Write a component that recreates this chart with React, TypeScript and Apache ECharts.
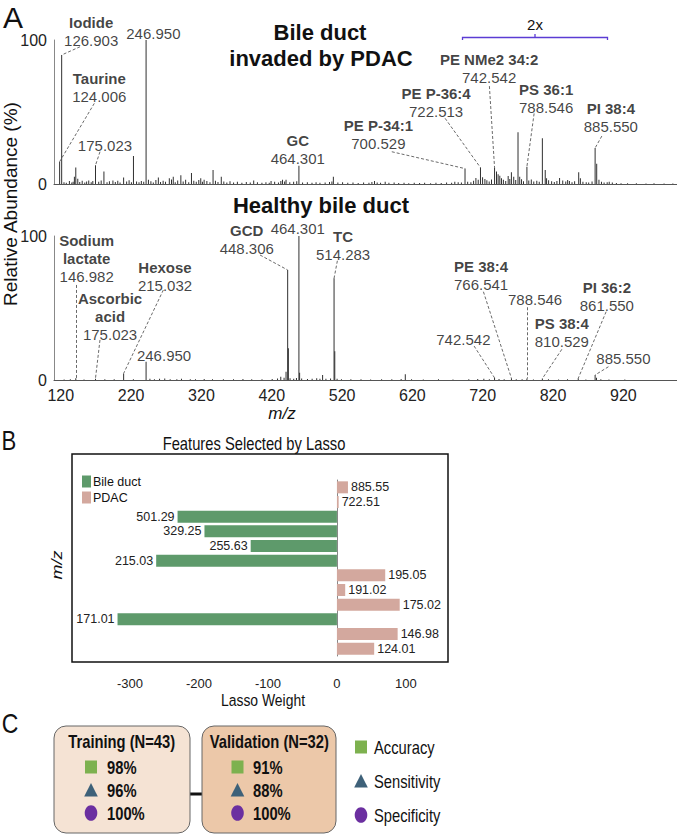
import React, { useEffect, useRef } from 'react';
import * as echarts from 'echarts';

const SANS = "'Liberation Sans', Arial, Helvetica, sans-serif";
const NARROW_SX = 0.82; // reference uses a condensed face; emulate by horizontal scaling

// ---------- Panel A : mass spectra ----------
const mzTicks = [120, 220, 320, 420, 520, 620, 720, 820, 920];
const abundanceTicks = [0, 100];

// [m/z, relative abundance %]  (bile duct invaded by PDAC)
const topPeaks: [number, number][] = [
  [124.006, 15.5], [126.903, 89.6], [145.0, 5], [146.98, 11.5], [149.8, 3.7], [165.4, 2.5],
  [175.023, 13], [187.0, 8.6], [199.8, 2.5], [215.0, 4.5], [229.0, 19.4], [246.95, 100],
  [250.3, 3], [264.4, 4.5], [280.0, 4], [285.6, 5], [296.4, 6], [311.5, 7.7], [324.7, 4],
  [329.5, 3], [342.2, 9.8], [353.9, 5], [400, 2.5], [424.7, 2], [441, 3], [446, 3],
  [464.301, 12.7], [513.3, 5], [571.8, 2], [587, 1.5], [686, 1.5], [700.529, 10.7], [716, 4.2],
  [722.513, 11.4], [725.5, 4.7], [728.8, 3.5], [742.542, 11.4], [745.3, 8.6], [747.6, 6.7],
  [750, 5.8], [752.4, 4], [766.5, 8.2], [769.8, 5], [775.9, 36], [778.3, 5], [788.546, 12],
  [810.529, 31.7], [814.6, 9.7], [816.5, 4], [835, 4.2], [839.5, 2.5], [849, 2], [862.2, 8.2],
  [864.6, 4], [885.55, 25], [887.8, 14], [891, 3], [905.6, 1.5], [910, 1]
];
const topNoise: [number, number][] = [
  [130.2, 1.2], [133.5, 0.8], [137.9, 2.0], [141.3, 1.1], [143.2, 1.6], [152.6, 1.4], [156.1, 2.2],
  [159.8, 1.0], [162.4, 1.8], [168.9, 1.3], [171.2, 2.1], [179.6, 1.5], [183.1, 2.4], [191.4, 1.2],
  [194.8, 1.9], [203.2, 1.4], [206.7, 2.3], [209.9, 1.1], [219.3, 1.7], [222.8, 2.6], [226.1, 1.3],
  [233.4, 1.8], [236.9, 1.2], [240.2, 2.0], [243.6, 1.5], [253.8, 1.9], [257.2, 1.1], [260.9, 2.8],
  [267.5, 1.4], [271.2, 2.2], [274.6, 1.6], [283.1, 3.1], [288.4, 1.3], [291.9, 2.4], [299.7, 1.8],
  [303.2, 2.9], [307.6, 1.2], [314.8, 2.2], [318.3, 1.5], [321.9, 2.7], [327.1, 1.6], [333.4, 2.0],
  [337.8, 1.3], [345.6, 2.3], [349.2, 1.4], [357.5, 1.7], [361.8, 1.1], [366.3, 1.9], [371.4, 1.0],
  [376.8, 1.6], [383.2, 0.9], [389.5, 1.4], [395.1, 1.0], [405.3, 1.2], [411.7, 0.8], [417.4, 1.3],
  [422.1, 0.9], [429.8, 1.5], [435.2, 1.1], [438.6, 2.0], [444.0, 1.7], [451.3, 1.2], [456.8, 1.6],
  [461.2, 1.9], [469.5, 1.0], [476.3, 1.3], [482.9, 0.8], [488.7, 1.2], [494.2, 0.9], [501.6, 1.1],
  [507.8, 1.4], [511.2, 1.8], [519.7, 1.0], [526.4, 1.3], [533.8, 0.8], [541.2, 1.1], [548.6, 0.7],
  [556.3, 1.0], [563.9, 0.8], [568.1, 1.4], [575.6, 1.1], [580.4, 0.9], [592.3, 0.8], [599.7, 1.0],
  [606.2, 0.7], [613.8, 0.9], [620.5, 0.6], [628.3, 0.8], [635.9, 0.7], [643.1, 0.9], [651.6, 0.6],
  [659.2, 0.8], [666.7, 0.7], [674.3, 1.0], [681.5, 0.9], [690.8, 1.2], [695.4, 1.0], [704.3, 1.6],
  [708.9, 1.3], [712.7, 2.2], [719.3, 3.0], [731.6, 2.6], [734.9, 1.8], [738.2, 3.2], [755.1, 3.0],
  [758.4, 2.1], [761.9, 5.5], [764.2, 3.4], [772.6, 2.8], [780.9, 3.3], [783.7, 1.9], [791.2, 2.5],
  [794.8, 3.1], [798.3, 1.7], [802.6, 2.2], [806.1, 1.5], [819.4, 2.6], [823.7, 1.9], [827.5, 1.4],
  [831.2, 2.0], [843.8, 1.8], [846.5, 2.7], [852.7, 1.3], [856.4, 1.9], [868.2, 1.6], [872.9, 1.2],
  [876.4, 1.0], [881.2, 1.8], [894.6, 1.6], [898.3, 1.1], [902.7, 1.3], [915.8, 0.7], [922.4, 0.6],
  [931.7, 0.5], [944.2, 0.6], [957.9, 0.4], [969.3, 0.5], [983.6, 0.4], [996.1, 0.3]
];

// healthy bile duct
const bottomPeaks: [number, number][] = [
  [146.982, 1.2], [175.023, 0.8], [215.032, 4.6], [246.95, 12.7], [446, 5.8], [448.306, 76.4],
  [449.3, 22], [464.301, 100], [465.3, 5], [498, 3.5], [514.283, 70.6], [515.3, 20], [615.6, 4],
  [742.542, 1.5], [766.541, 1.2], [788.546, 1.0], [810.529, 1.0], [861.55, 1.2], [885.55, 3.5],
  [887.5, 1.5]
];
const bottomNoise: [number, number][] = [
  [130.4, 0.4], [139.2, 0.5], [158.7, 0.4], [188.3, 0.5], [201.6, 0.6], [228.9, 0.5], [252.4, 0.9],
  [258.8, 0.6], [266.1, 0.8], [273.5, 1.0], [281.2, 0.5], [290.7, 0.6], [297.3, 0.8], [309.8, 0.5],
  [317.2, 0.6], [329.6, 0.7], [341.4, 0.5], [356.9, 0.6], [371.3, 0.5], [384.7, 0.7], [397.2, 0.5],
  [411.8, 0.6], [426.3, 0.7], [433.9, 1.1], [438.5, 2.2], [443.2, 1.5], [451.7, 1.2], [456.9, 0.9],
  [460.8, 1.4], [468.2, 1.0], [476.5, 0.7], [483.1, 0.8], [489.6, 1.3], [494.2, 0.9], [502.7, 0.8],
  [509.3, 1.1], [518.6, 0.9], [524.8, 0.6], [538.2, 0.5], [552.6, 0.6], [566.3, 0.4], [581.9, 0.5],
  [596.4, 0.6], [609.7, 0.7], [624.5, 0.5], [641.2, 0.4], [662.8, 0.5], [683.4, 0.4], [705.9, 0.5],
  [718.6, 0.7], [727.3, 0.8], [735.1, 0.6], [748.9, 0.7], [756.2, 0.5], [773.4, 0.6], [781.7, 0.5],
  [797.8, 0.4], [819.2, 0.5], [833.6, 0.4], [846.3, 0.5], [872.4, 0.4], [893.7, 0.6], [905.2, 0.4],
  [927.8, 0.3]
];

type Note = { name?: string; mz: string; at: [number, number]; line?: [[number, number], [number, number]] };

const topNotes: Note[] = [
  { name: 'Iodide', mz: '126.903', at: [168.9, 105.6], line: [[153, 95.3], [126.903, 89.6]] },
  { name: 'Taurine', mz: '124.006', at: [180.4, 67], line: [[173.3, 56], [124.006, 15.5]] },
  { mz: '175.023', at: [188.5, 26.4], line: [[181.4, 22.4], [175.023, 13]] },
  { mz: '246.950', at: [257.3, 104.7] },
  { name: 'GC', mz: '464.301', at: [462.7, 23.7] },
  { name: 'PE P-34:1', mz: '700.529', at: [577.3, 34.2], line: [[596.4, 22.4], [700.529, 10.7]] },
  { name: 'PE P-36:4', mz: '722.513', at: [659.4, 56.6], line: [[672.2, 45.6], [722.513, 11.4]] },
  { name: 'PE NMe2 34:2', mz: '742.542', at: [734.8, 80.2], line: [[735.2, 68], [742.542, 11.4]] },
  { name: 'PS 36:1', mz: '788.546', at: [815.9, 59.7], line: [[798.8, 49], [788.546, 12]] },
  { name: 'PI 38:4', mz: '885.550', at: [907.9, 46.2], line: [[895.1, 33.3], [885.55, 25]] }
];

const bottomNotes: Note[] = [
  { name: 'Sodium\nlactate', mz: '146.982', at: [162.5, 84.5], line: [[146.982, 66], [146.982, 1.2]] },
  { name: 'Ascorbic\nacid', mz: '175.023', at: [195.7, 44.4], line: [[181.4, 27.8], [175.023, 1.2]] },
  { name: 'Hexose', mz: '215.032', at: [273.9, 72.1], line: [[271.5, 62.5], [215.032, 4.6]] },
  { mz: '246.950', at: [272.5, 16.9] },
  { name: 'GCD', mz: '448.306', at: [390.1, 97.8], line: [[409, 86.8], [448.306, 76.4]] },
  { mz: '464.301', at: [462.7, 105.3] },
  { name: 'TC', mz: '514.283', at: [527.1, 93.5], line: [[519, 82.8], [514.283, 70.6]] },
  { name: 'PE 38:4', mz: '766.541', at: [723.4, 72.6], line: [[726.7, 61.3], [766.541, 1.2]] },
  { mz: '742.542', at: [698.2, 28.3], line: [[713.4, 23.6], [742.542, 1.5]] },
  { mz: '788.546', at: [800.2, 55.6], line: [[788.546, 50.5], [788.546, 1.0]] },
  { name: 'PS 38:4', mz: '810.529', at: [838.2, 33], line: [[838.2, 21.3], [810.529, 1.0]] },
  { name: 'PI 36:2', mz: '861.550', at: [902.2, 58.2], line: [[901.2, 47.4], [861.55, 1.2]] },
  { mz: '885.550', at: [925.8, 15.1], line: [[904.5, 9.2], [885.55, 3.5]] }
];

// ---------- Panel B : lasso features ----------
const lassoMz = ['885.55', '722.51', '501.29', '329.25', '255.63', '215.03', '195.05', '191.02', '175.02', '171.01', '146.98', '124.01'];
const bileWeights = [null, null, -231, -192, -125, -262, null, null, null, -318, null, null];
const pdacWeights = [16, 2.5, null, null, null, null, 70, 12, 91, null, 88, 54];
const weightTicks = [-300, -200, -100, 0, 100];

// ---------- Panel C : performance ----------
const metricNames = ['Accuracy', 'Sensitivity', 'Specificity'];
const cohortNames = ['Training', 'Validation'];
const cohortN = [43, 32];
const trainingPct = [98, 96, 100];
const validationPct = [91, 88, 100];

const GREEN = '#5e9a6b';
const PINK = '#d3a89e';
const MARK_COLORS = ['#7db14f', '#3e6179', '#6b2fa0'];

function noteText(n: Note) {
  const parts: string[] = [];
  if (n.name) n.name.split('\n').forEach((s) => parts.push(`{b|${s}}`));
  parts.push(`{v|${n.mz}}`);
  return parts.join('\n');
}

function marker(kind: number, cx: number, cy: number) {
  const fill = MARK_COLORS[kind];
  if (kind === 0) return { type: 'rect', shape: { x: cx - 6, y: cy - 6.5, width: 12, height: 13 }, style: { fill } };
  if (kind === 1)
    return { type: 'polygon', shape: { points: [[cx, cy - 7], [cx + 6.8, cy + 6.5], [cx - 6.8, cy + 6.5]] }, style: { fill } };
  return { type: 'ellipse', shape: { cx, cy, rx: 6.3, ry: 7.8 }, style: { fill } };
}

function txt(text: string, x: number, y: number, font: string, extra: any = {}) {
  return {
    type: 'text',
    x,
    y,
    rotation: extra.rotation || 0,
    scaleX: extra.sx || 1,
    scaleY: extra.sy || 1,
    style: { text, font, fill: extra.fill || '#111', align: extra.align || 'center', verticalAlign: 'middle' }
  };
}

export default function App() {
  const ref = useRef<HTMLDivElement>(null);
  useEffect(() => {
    if (!ref.current) return;
    const chart = echarts.init(ref.current, null, { renderer: 'svg' });

    const spectrumX = (idx: number, labels: boolean) => ({
      type: 'value',
      gridIndex: idx,
      min: 116,
      max: 1002,
      axisLine: { show: true, lineStyle: { color: '#555', width: 1 } },
      axisTick: { show: false },
      splitLine: { show: false },
      axisLabel: labels
        ? { show: true, customValues: mzTicks, fontSize: 16, fontFamily: SANS, color: '#222', margin: 7, padding: [0, 0, 0, 8] }
        : { show: false }
    });
    const spectrumY = (idx: number, pad: number) => ({
      type: 'value',
      gridIndex: idx,
      min: 0,
      max: 100,
      interval: 100,
      axisLine: { show: true, lineStyle: { color: '#888', width: 1 } },
      axisTick: { show: false },
      splitLine: { show: false },
      axisLabel: { customValues: abundanceTicks, fontSize: 16, fontFamily: SANS, color: '#222', margin: 7, padding: [pad, 0, 0, 0] }
    });

    const spectrumSeries = (idx: number, peaks: [number, number][], noise: [number, number][], notes: Note[]) => [
      {
        type: 'bar',
        xAxisIndex: idx,
        yAxisIndex: idx,
        data: [...peaks, ...noise],
        barWidth: 1,
        itemStyle: { color: '#303030' },
        silent: true,
        markLine: {
          silent: true,
          symbol: ['none', 'none'],
          label: { show: false },
          emphasis: { disabled: true },
          lineStyle: { type: [3, 2], color: '#444', width: 0.8 },
          data: notes.filter((n) => n.line).map((n) => [{ coord: n.line![0] }, { coord: n.line![1] }])
        }
      },
      {
        type: 'scatter',
        xAxisIndex: idx,
        yAxisIndex: idx,
        clip: false,
        silent: true,
        symbolSize: 1,
        itemStyle: { color: 'rgba(0,0,0,0)' },
        data: notes.map((n) => ({ value: n.at, text: noteText(n) })),
        label: {
          show: true,
          position: 'inside',
          align: 'center',
          verticalAlign: 'middle',
          formatter: (p: any) => p.data.text,
          rich: {
            b: { fontFamily: SANS, fontWeight: 'bold', fontSize: 15, lineHeight: 18, color: '#111' },
            v: { fontFamily: SANS, fontSize: 15, lineHeight: 18, color: '#111' }
          }
        },
        z: 5
      }
    ];

    const N = { sx: NARROW_SX };
    const graphic: any[] = [];
    // panel letters
    graphic.push(txt('A', 13, 17, `30px ${SANS}`));
    graphic.push(txt('B', 9, 441, `27px ${SANS}`, N));
    graphic.push(txt('C', 10, 723, `28px ${SANS}`, N));
    // panel A titles
    graphic.push(txt('Bile duct', 320, 32, `bold 22px ${SANS}`));
    graphic.push(txt('invaded by PDAC', 321, 58, `bold 22px ${SANS}`));
    graphic.push(txt('Healthy bile duct', 321, 205, `bold 22px ${SANS}`));
    graphic.push(txt('Relative Abundance (%)', 10, 204, `19px ${SANS}`, { rotation: Math.PI / 2 }));
    graphic.push(txt('m/z', 282, 413, `italic 17px ${SANS}`));
    // 2x bracket
    graphic.push({
      type: 'polyline',
      shape: { points: [[462.5, 40], [462.5, 37.5], [607.5, 37.5], [607.5, 40]] },
      style: { stroke: '#5b3cd4', lineWidth: 1.3, fill: null }
    });
    graphic.push({ type: 'line', shape: { x1: 535, y1: 37.5, x2: 535, y2: 34 }, style: { stroke: '#5b3cd4', lineWidth: 1.3 } });
    graphic.push(txt('2x', 535, 24, `15px ${SANS}`));

    // panel B decorations
    graphic.push({ type: 'rect', shape: { x: 72, y: 454, width: 376, height: 208 }, style: { fill: null, stroke: '#111', lineWidth: 1.5 } });
    graphic.push(txt('Features Selected by Lasso', 254, 443, `18px ${SANS}`, N));
    graphic.push(txt('m/z', 57, 565, `italic 18px ${SANS}`, { rotation: Math.PI / 2, sy: NARROW_SX }));
    graphic.push(txt('Lasso Weight', 263, 700, `17px ${SANS}`, N));

    // panel C
    const boxes = [
      { x: 54, w: 136, fill: '#f5e3d4', markX: 91, textX: 107, titleX: 121.7, pct: trainingPct },
      { x: 202, w: 134, fill: '#ecc8a9', markX: 237.5, textX: 253, titleX: 269.3, pct: validationPct }
    ];
    graphic.push({ type: 'line', shape: { x1: 190, y1: 794, x2: 202, y2: 794 }, style: { stroke: '#111', lineWidth: 3 } });
    const rowY = [767, 790, 813];
    boxes.forEach((b, i) => {
      graphic.push({ type: 'rect', shape: { x: b.x, y: 726, width: b.w, height: 107, r: 12 }, style: { fill: b.fill, stroke: '#666', lineWidth: 1 } });
      graphic.push(txt(`${cohortNames[i]} (N=${cohortN[i]})`, b.titleX, 741, `bold 18px ${SANS}`, N));
      b.pct.forEach((v, k) => {
        graphic.push(marker(k, b.markX, rowY[k]));
        graphic.push(txt(`${v}%`, b.textX, rowY[k], `bold 18px ${SANS}`, { align: 'left', sx: NARROW_SX }));
      });
    });
    const legY = [747, 781, 815];
    metricNames.forEach((m, k) => {
      graphic.push(marker(k, 361, legY[k]));
      graphic.push(txt(m, 374, legY[k], `18px ${SANS}`, { align: 'left', sx: NARROW_SX }));
    });

    const option: any = {
      animation: false,
      grid: [
        { left: 54, right: 0, top: 40, height: 144, outerBoundsMode: 'none' },
        { left: 54, right: 0, top: 236, height: 144, outerBoundsMode: 'none' },
        { left: 72, width: 376, top: 480, height: 176, outerBoundsMode: 'none' }
      ],
      xAxis: [
        spectrumX(0, false),
        spectrumX(1, true),
        {
          type: 'value',
          gridIndex: 2,
          min: -384,
          max: 161,
          axisLine: { show: false },
          axisTick: { show: false },
          splitLine: { show: false },
          axisLabel: { customValues: weightTicks, fontSize: 13, fontFamily: SANS, color: '#222', margin: 21 }
        }
      ],
      yAxis: [
        spectrumY(0, 8),
        spectrumY(1, 4),
        {
          type: 'category',
          gridIndex: 2,
          inverse: true,
          data: lassoMz,
          axisLine: { show: true, onZero: true, lineStyle: { color: '#888', width: 1 } },
          axisTick: { show: false },
          axisLabel: { show: false },
          splitLine: { show: false }
        }
      ],
      legend: {
        data: ['Bile duct', 'PDAC'],
        orient: 'vertical',
        left: 77,
        top: 470,
        itemWidth: 9,
        itemHeight: 12,
        itemGap: 3,
        icon: 'rect',
        selectedMode: false,
        textStyle: { fontSize: 12.5, fontFamily: SANS, color: '#111', padding: [0, 0, 0, -3] }
      },
      graphic,
      series: [
        ...spectrumSeries(0, topPeaks, topNoise, topNotes),
        ...spectrumSeries(1, bottomPeaks, bottomNoise, bottomNotes),
        {
          name: 'Bile duct',
          type: 'bar',
          xAxisIndex: 2,
          yAxisIndex: 2,
          stack: 'w',
          barWidth: 12,
          data: bileWeights,
          itemStyle: { color: GREEN },
          label: { show: true, position: 'left', distance: 3, formatter: '{b}', fontSize: 12.5, fontFamily: SANS, color: '#222' }
        },
        {
          name: 'PDAC',
          type: 'bar',
          xAxisIndex: 2,
          yAxisIndex: 2,
          stack: 'w',
          barWidth: 12,
          data: pdacWeights,
          itemStyle: { color: PINK },
          label: { show: true, position: 'right', distance: 3, formatter: '{b}', fontSize: 12.5, fontFamily: SANS, color: '#222' }
        }
      ]
    };
    chart.setOption(option);
    return () => chart.dispose();
  }, []);
  return <div ref={ref} style={{ position: 'absolute', left: 0, top: 0, width: 677, height: 834, background: '#fff' }} />;
}
